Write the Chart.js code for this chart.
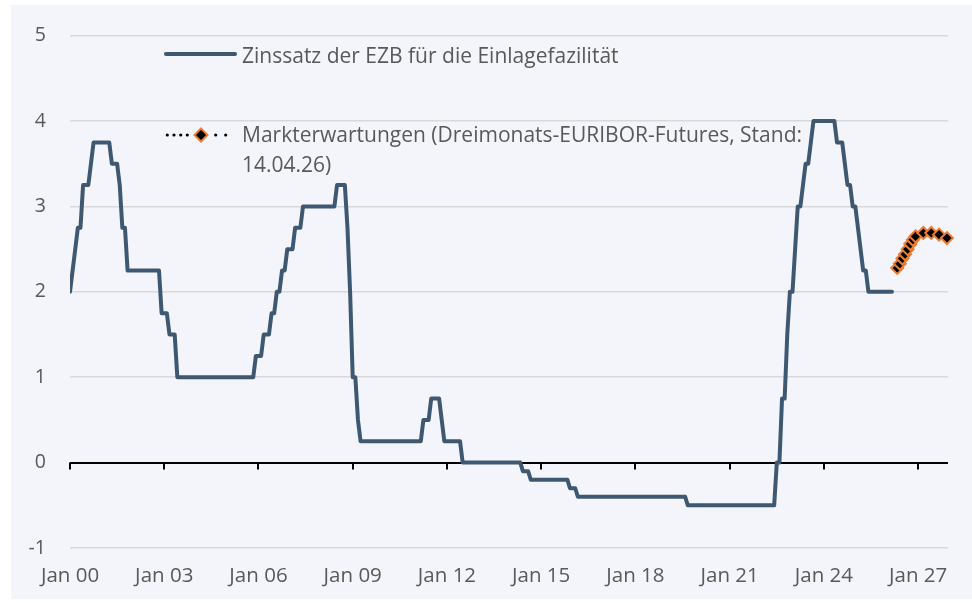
<!DOCTYPE html>
<html><head><meta charset="utf-8">
<script src="https://cdn.jsdelivr.net/npm/chart.js@4/dist/chart.umd.min.js"></script>
<style>
html,body{margin:0;padding:0;background:#ffffff;}
#wrap{position:relative;width:972px;height:603px;overflow:hidden;}
#panel{position:absolute;left:11px;top:5px;width:961px;height:594px;background:#F4F5FA;}
#c{position:absolute;left:0;top:0;}
#sym{position:absolute;left:0;top:0;}
.leg{position:absolute;font-family:"Open Sans",sans-serif;font-size:21px;color:#595959;line-height:30px;white-space:nowrap;}
</style></head><body>
<div id="wrap">
<div id="panel"></div>
<canvas id="c" width="972" height="603"></canvas>
<svg id="sym" width="972" height="603">
  <line x1="166" y1="54" x2="235" y2="54" stroke="#3E5872" stroke-width="4" stroke-linecap="round"/>
  <circle cx="167.3" cy="135" r="1.6" fill="#000"/>
  <circle cx="174" cy="135" r="1.6" fill="#000"/>
  <circle cx="180.7" cy="135" r="1.6" fill="#000"/>
  <circle cx="187.3" cy="135" r="1.6" fill="#000"/>
  <circle cx="215.7" cy="135" r="1.6" fill="#000"/>
  <circle cx="225.7" cy="135" r="1.6" fill="#000"/>
  <polygon points="201,128.5 207.5,135 201,141.5 194.5,135" fill="#000" stroke="#ED7D31" stroke-width="2"/>
</svg>
<div class="leg" id="leg1" style="left:242px;top:39.5px;">Zinssatz der EZB für die Einlagefazilität</div>
<div class="leg" id="leg2" style="left:242px;top:118.5px;">Markterwartungen (Dreimonats-EURIBOR-Futures, Stand:<br>14.04.26)</div>
</div>
<script>
// ---- DATA ----
const seriesStart = "01/2000"; // first month of the deposit facility series (month-end values)
const depositRate = [
  2.00,2.25,2.50,2.75,2.75,3.25,3.25,3.25,3.50,3.75,3.75,3.75, // 2000
  3.75,3.75,3.75,3.75,3.50,3.50,3.50,3.25,2.75,2.75,2.25,2.25, // 2001
  2.25,2.25,2.25,2.25,2.25,2.25,2.25,2.25,2.25,2.25,2.25,1.75, // 2002
  1.75,1.75,1.50,1.50,1.50,1.00,1.00,1.00,1.00,1.00,1.00,1.00, // 2003
  1.00,1.00,1.00,1.00,1.00,1.00,1.00,1.00,1.00,1.00,1.00,1.00, // 2004
  1.00,1.00,1.00,1.00,1.00,1.00,1.00,1.00,1.00,1.00,1.00,1.25, // 2005
  1.25,1.25,1.50,1.50,1.50,1.75,1.75,2.00,2.00,2.25,2.25,2.50, // 2006
  2.50,2.50,2.75,2.75,2.75,3.00,3.00,3.00,3.00,3.00,3.00,3.00, // 2007
  3.00,3.00,3.00,3.00,3.00,3.00,3.25,3.25,3.25,3.25,2.75,2.00, // 2008
  1.00,1.00,0.50,0.25,0.25,0.25,0.25,0.25,0.25,0.25,0.25,0.25, // 2009
  0.25,0.25,0.25,0.25,0.25,0.25,0.25,0.25,0.25,0.25,0.25,0.25, // 2010
  0.25,0.25,0.25,0.50,0.50,0.50,0.75,0.75,0.75,0.75,0.50,0.25, // 2011
  0.25,0.25,0.25,0.25,0.25,0.25,0.00,0.00,0.00,0.00,0.00,0.00, // 2012
  0.00,0.00,0.00,0.00,0.00,0.00,0.00,0.00,0.00,0.00,0.00,0.00, // 2013
  0.00,0.00,0.00,0.00,0.00,-0.10,-0.10,-0.10,-0.20,-0.20,-0.20,-0.20, // 2014
  -0.20,-0.20,-0.20,-0.20,-0.20,-0.20,-0.20,-0.20,-0.20,-0.20,-0.20,-0.30, // 2015
  -0.30,-0.30,-0.40,-0.40,-0.40,-0.40,-0.40,-0.40,-0.40,-0.40,-0.40,-0.40, // 2016
  -0.40,-0.40,-0.40,-0.40,-0.40,-0.40,-0.40,-0.40,-0.40,-0.40,-0.40,-0.40, // 2017
  -0.40,-0.40,-0.40,-0.40,-0.40,-0.40,-0.40,-0.40,-0.40,-0.40,-0.40,-0.40, // 2018
  -0.40,-0.40,-0.40,-0.40,-0.40,-0.40,-0.40,-0.40,-0.50,-0.50,-0.50,-0.50, // 2019
  -0.50,-0.50,-0.50,-0.50,-0.50,-0.50,-0.50,-0.50,-0.50,-0.50,-0.50,-0.50, // 2020
  -0.50,-0.50,-0.50,-0.50,-0.50,-0.50,-0.50,-0.50,-0.50,-0.50,-0.50,-0.50, // 2021
  -0.50,-0.50,-0.50,-0.50,-0.50,-0.50,0.00,0.00,0.75,0.75,1.50,2.00, // 2022
  2.00,2.50,3.00,3.00,3.25,3.50,3.50,3.75,4.00,4.00,4.00,4.00, // 2023
  4.00,4.00,4.00,4.00,4.00,3.75,3.75,3.75,3.50,3.25,3.25,3.00, // 2024
  3.00,2.75,2.50,2.25,2.25,2.00,2.00,2.00,2.00,2.00,2.00,2.00, // 2025
  2.00,2.00,2.00                                               // 2026
];
const expMonths = ["05/2026","06/2026","07/2026","08/2026","09/2026","10/2026","11/2026","12/2026","03/2027","06/2027","09/2027","12/2027"];
const expValues = [2.28,2.33,2.39,2.44,2.50,2.56,2.61,2.65,2.69,2.69,2.67,2.63];
const yTicks = [-1,0,1,2,3,4,5];
const xTickYears = [2000,2003,2006,2009,2012,2015,2018,2021,2024,2027];

// ---- helpers ----
function monthToYear(s){ const p=s.split("/"); return +p[1] + (+p[0]-1)/12; }
const startYear = monthToYear(seriesStart);
const rateData = depositRate.map((v,i)=>({x:startYear + i/12, y:v}));
const expData = expMonths.map((m,i)=>({x:monthToYear(m), y:expValues[i]}));

const FONT = '"Open Sans", sans-serif';
const GREY = '#595959';

const zeroTicks = {
  id:'zeroTicks',
  beforeDatasetsDraw(chart){
    const {ctx, scales:{x,y}} = chart;
    const y0 = y.getPixelForValue(0);
    ctx.save();
    ctx.strokeStyle = '#000';
    ctx.lineWidth = 2;
    xTickYears.forEach(v=>{
      const px = Math.round(x.getPixelForValue(v));
      ctx.beginPath(); ctx.moveTo(px, y0); ctx.lineTo(px, y0+7); ctx.stroke();
    });
    ctx.restore();
  }
};

new Chart(document.getElementById('c'), {
  type:'line',
  data:{
    datasets:[
      {label:'Zinssatz der EZB für die Einlagefazilität', data:rateData,
       borderColor:'#3E5872', borderWidth:4, pointRadius:0, tension:0,
       borderCapStyle:'round', borderJoinStyle:'round', fill:false},
      {label:'Markterwartungen (Dreimonats-EURIBOR-Futures, Stand: 14.04.26)', data:expData,
       borderColor:'#000', borderWidth:2, borderDash:[2,4], tension:0, fill:false, clip:false,
       pointStyle:'rectRot', pointRadius:6, pointBackgroundColor:'#000',
       pointBorderColor:'#ED7D31', pointBorderWidth:2}
    ]
  },
  options:{
    responsive:false, animation:false, devicePixelRatio:1,
    layout:{padding:{left:0,right:24,top:34,bottom:0}},
    plugins:{legend:{display:false}, tooltip:{enabled:false}},
    scales:{
      x:{type:'linear', min:2000, max:2027.95,
         grid:{display:false, drawTicks:false}, border:{display:false},
         afterFit(s){ s.height = 55; },
         afterBuildTicks(s){ s.ticks = xTickYears.map(v=>({value:v})); },
         ticks:{autoSkip:false, maxRotation:0, padding:16, color:GREY,
                font:{family:FONT, size:20.5},
                callback:v=>'Jan '+String(v-2000).padStart(2,'0')}},
      y:{min:-1, max:5,
         afterFit(s){ s.width = 70; },
         afterBuildTicks(s){ s.ticks = yTicks.map(v=>({value:v})); },
         grid:{drawTicks:false,
               color:c=>c.tick && c.tick.value===0 ? '#000' : '#D9D9D9',
               lineWidth:c=>c.tick && c.tick.value===0 ? 2 : 1.5},
         border:{display:false},
         ticks:{padding:24, color:GREY, font:{family:FONT, size:19.5}}}
    }
  },
  plugins:[zeroTicks]
});
</script>
</body></html>
